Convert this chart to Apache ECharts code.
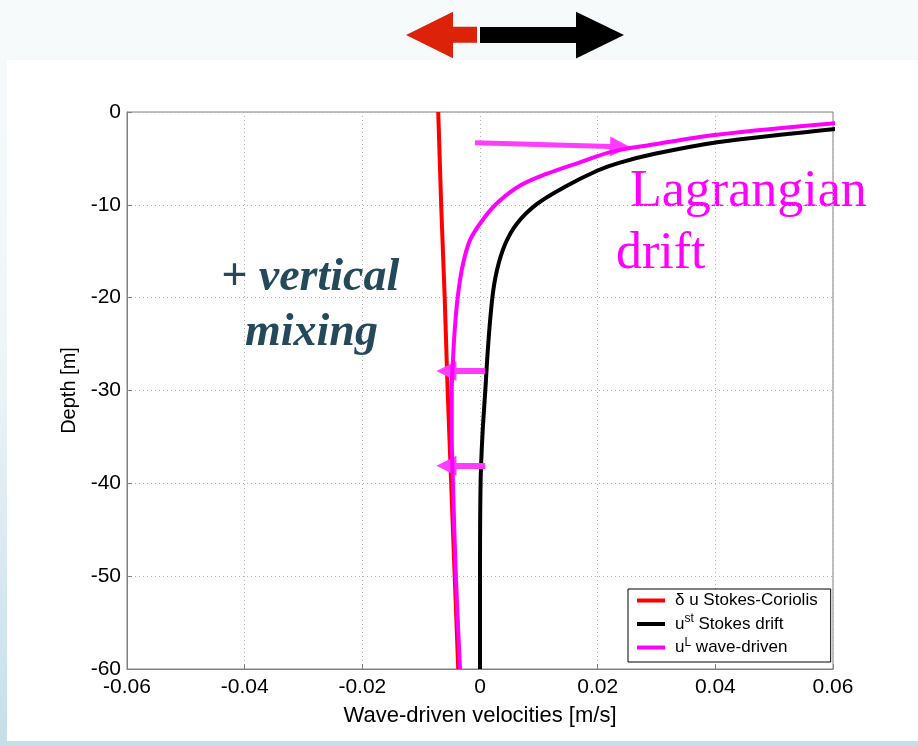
<!DOCTYPE html>
<html>
<head>
<meta charset="utf-8">
<script src="https://cdn.jsdelivr.net/npm/echarts@6/dist/echarts.min.js"></script>
<style>
  html, body { margin: 0; padding: 0; }
  body { width: 918px; height: 746px; position: relative; overflow: hidden;
         background: linear-gradient(to bottom, #f6fafb 0%, #f0f6f8 45%, #c6dee8 100%); }
  #panel { position: absolute; left: 7px; top: 60px; width: 911px; height: 681px; background: #ffffff; }
  #chart { position: absolute; left: 0; top: 0; width: 918px; height: 746px; }
</style>
</head>
<body>
<div id="panel"></div>
<div id="chart"></div>
<script>
// ---- data ----
const xTicks = [-0.06, -0.04, -0.02, 0, 0.02, 0.04, 0.06];
const yTicks = [0, -10, -20, -30, -40, -50, -60];

// delta u Stokes-Coriolis (red)
const redDepth = [0, -10, -20, -30, -40, -50, -60];
const redVel   = [-0.0071, -0.0066, -0.0060, -0.0055, -0.0049, -0.0043, -0.0037];

// u^st Stokes drift (black)
const blackDepth = [-1.0, -1.85, -2.35, -3.25, -4.5, -5.5, -6.3, -8.1, -9.9, -12.0, -14.2, -17, -20, -25, -30, -35, -40, -50, -60];
const blackVel   = [0.075, 0.060, 0.0526, 0.0403, 0.0297, 0.0235, 0.0200, 0.0143, 0.0097, 0.0063, 0.0043, 0.0029, 0.0021, 0.0014, 0.0009, 0.0004, 0.0001, 0.0, 0.0];

// u^L wave-driven (magenta)
const magDepth = [-0.6, -1.2, -2.45, -3.6, -4.3, -5.4, -6.65, -7.9, -9.7, -11.5, -13.8, -16.7, -20, -23.5, -26.8, -30, -35, -40, -50, -60];
const magVel   = [0.075, 0.0606, 0.0403, 0.0285, 0.0223, 0.0171, 0.0114, 0.0069, 0.0031, 0.0006, -0.0017, -0.0030, -0.0038, -0.0043, -0.0046, -0.0048, -0.0048, -0.0046, -0.0041, -0.0034];

const seriesNames = ['δ u Stokes-Coriolis', 'ust Stokes drift', 'uL wave-driven'];

// annotation arrows in data coordinates: [fromVel, fromDepth, toVel, toDepth]
const bigArrow = [-0.00085, -3.3, 0.0238, -3.75];
const smallArrows = [[0.0009, -27.9, -0.0057, -27.9], [0.0009, -38.1, -0.0057, -38.1]];

const pairs = (v, d) => v.map((x, i) => [x, d[i]]);

const chart = echarts.init(document.getElementById('chart'), null, { renderer: 'canvas' });
const axisGrey = '#808080';
const font = '"Liberation Sans", Arial, sans-serif';

const option = {
  animation: false,
  backgroundColor: 'transparent',
  grid: { left: 127, right: 85, top: 112, bottom: 77, show: true, borderColor: axisGrey, borderWidth: 1, backgroundColor: 'transparent' },
  xAxis: {
    type: 'value', min: -0.06, max: 0.06, interval: 0.02,
    name: 'Wave-driven velocities [m/s]', nameLocation: 'middle', nameGap: 36,
    nameTextStyle: { fontFamily: font, fontSize: 22, color: '#000' },
    axisLine: { show: true, onZero: false, lineStyle: { color: axisGrey } },
    axisTick: { show: true, inside: true, length: 5, lineStyle: { color: axisGrey } },
    axisLabel: { fontFamily: font, fontSize: 21, color: '#000', margin: 8,
      formatter: v => Math.abs(v) < 1e-9 ? '0' : v.toFixed(2) },
    splitLine: { show: true, lineStyle: { color: '#b0b0b0', type: [1, 3], width: 1 } }
  },
  yAxis: {
    type: 'value', min: -60, max: 0, interval: 10,
    name: 'Depth [m]', nameLocation: 'middle', nameGap: 44, nameRotate: 90,
    nameTextStyle: { fontFamily: font, fontSize: 20, color: '#000' },
    axisLine: { show: true, onZero: false, lineStyle: { color: axisGrey } },
    axisTick: { show: true, inside: true, length: 5, lineStyle: { color: axisGrey } },
    axisLabel: { fontFamily: font, fontSize: 21, color: '#000', margin: 6 },
    splitLine: { show: true, lineStyle: { color: '#b0b0b0', type: [1, 3], width: 1 } }
  },
  legend: {
    data: seriesNames,
    orient: 'vertical', left: 628, top: 589,
    padding: [3, 13, 6, 9], itemGap: 4, itemWidth: 28, itemHeight: 4, icon: 'rect',
    backgroundColor: '#fff', borderColor: '#000', borderWidth: 1, borderRadius: 0,
    textStyle: { fontFamily: font, fontSize: 17, color: '#000',
      rich: { sup: { fontFamily: font, fontSize: 12, color: '#000', padding: [0, 0, 10, 0] },
              f: { fontFamily: font, fontSize: 17, color: '#000', padding: [0, 0, 0, 5] },
              n: { fontFamily: font, fontSize: 17, color: '#000' } } },
    formatter: name => {
      if (name === seriesNames[1]) return '{f|u}{sup|st}{n| Stokes drift}';
      if (name === seriesNames[2]) return '{f|u}{sup|L}{n| wave-driven}';
      return '{f|' + name + '}';
    }
  },
  series: [
    { name: seriesNames[0], type: 'line', data: pairs(redVel, redDepth), showSymbol: false, symbol: 'none',
      lineStyle: { color: '#ff0000', width: 4 }, itemStyle: { color: '#ff0000' }, z: 3 },
    { name: seriesNames[1], type: 'line', data: pairs(blackVel, blackDepth), showSymbol: false, symbol: 'none', smooth: 0.35,
      lineStyle: { color: '#000000', width: 4 }, itemStyle: { color: '#000000' }, z: 4 },
    { name: seriesNames[2], type: 'line', data: pairs(magVel, magDepth), showSymbol: false, symbol: 'none', smooth: 0.35,
      lineStyle: { color: '#ff00ff', width: 4 }, itemStyle: { color: '#ff00ff' }, z: 5 },
    { name: 'arrows', type: 'line', data: [], z: 6, silent: true,
      markLine: {
        silent: true, symbol: ['none', 'triangle'], symbolSize: 20,
        label: { show: false }, emphasis: { disabled: true },
        lineStyle: { color: '#ff3cff', width: 5, type: 'solid' },
        itemStyle: { color: '#ff3cff' },
        data: [
          [{ coord: [bigArrow[0], bigArrow[1]] }, { coord: [bigArrow[2], bigArrow[3]] }],
          ...smallArrows.map(a => [{ coord: [a[0], a[1]], lineStyle: { width: 6 } }, { coord: [a[2], a[3]] }])
        ]
      }
    }
  ],
  graphic: [
    { type: 'polygon', shape: { points: [[406, 35], [453, 11.7], [453, 26.7], [477, 26.7], [477, 42.7], [453, 42.7], [453, 58.3]] },
      style: { fill: '#dc2209' }, silent: true },
    { type: 'polygon', shape: { points: [[480, 27], [576, 27], [576, 11.7], [624, 35], [576, 58.5], [576, 43], [480, 43]] },
      style: { fill: '#000000' }, silent: true },
    { type: 'text', x: 221, y: 278, silent: true,
      style: { text: '+ vertical', font: 'italic bold 46px "Liberation Serif", "Times New Roman", serif', fill: '#23495a', verticalAlign: 'middle' } },
    { type: 'text', x: 245, y: 333, silent: true,
      style: { text: 'mixing', font: 'italic bold 46px "Liberation Serif", "Times New Roman", serif', fill: '#23495a', verticalAlign: 'middle' } },
    { type: 'text', x: 630, y: 192, silent: true,
      style: { text: 'Lagrangian', font: '52px "Liberation Serif", "Times New Roman", serif', fill: '#ff00ff', verticalAlign: 'middle' } },
    { type: 'text', x: 616, y: 254, silent: true,
      style: { text: 'drift', font: '52px "Liberation Serif", "Times New Roman", serif', fill: '#ff00ff', verticalAlign: 'middle' } }
  ]
};
chart.setOption(option);
</script>
</body>
</html>
